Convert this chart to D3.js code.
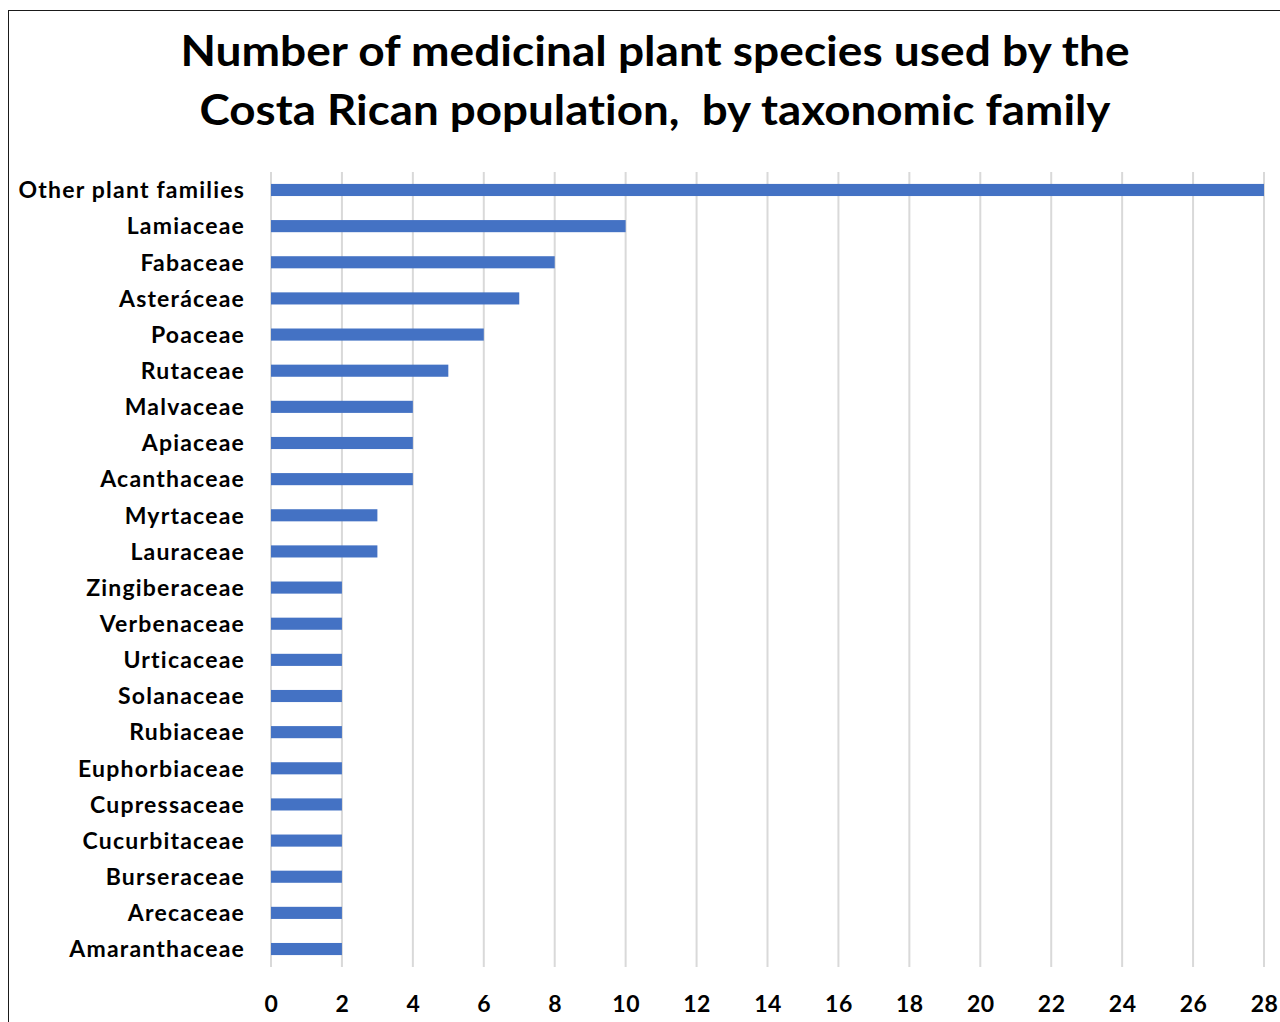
<!DOCTYPE html>
<html>
<head>
<meta charset="utf-8">
<script src="https://cdn.jsdelivr.net/npm/d3@7"></script>
<style>
  html, body { margin: 0; padding: 0; background: #fff; }
  svg { display: block; }
  text { font-family: Lato, "Open Sans", sans-serif; font-weight: bold; fill: #000; font-variant-ligatures: none; }
</style>
</head>
<body>
<svg id="chart" width="1280" height="1022"></svg>
<script>
// Plant families, top to bottom, and species counts for each
const families = [
  "Other plant families", "Lamiaceae", "Fabaceae", "Asteráceae", "Poaceae",
  "Rutaceae", "Malvaceae", "Apiaceae", "Acanthaceae", "Myrtaceae", "Lauraceae",
  "Zingiberaceae", "Verbenaceae", "Urticaceae", "Solanaceae", "Rubiaceae",
  "Euphorbiaceae", "Cupressaceae", "Cucurbitaceae", "Burseraceae", "Arecaceae",
  "Amaranthaceae"
];
const speciesCounts = [28, 10, 8, 7, 6, 5, 4, 4, 4, 3, 3, 2, 2, 2, 2, 2, 2, 2, 2, 2, 2, 2];
const xTicks = [0, 2, 4, 6, 8, 10, 12, 14, 16, 18, 20, 22, 24, 26, 28];
const titleLines = [
  "Number of medicinal plant species used by the",
  "Costa Rican population,  by taxonomic family"
];
const titleWidths = [949, 911];

const svg = d3.select("#chart");
const margin = { left: 271, right: 1264, top: 172, bottom: 967 };

// Outer chart frame (runs off the right and bottom edges)
svg.append("rect")
  .attr("x", 8.5).attr("y", 10.5)
  .attr("width", 1400).attr("height", 1100)
  .attr("fill", "none").attr("stroke", "#1a1a1a").attr("stroke-width", 1);

const x = d3.scaleLinear().domain([0, 28]).range([margin.left, margin.right]);
const y = d3.scaleBand().domain(families).range([margin.top, margin.bottom]).paddingInner(0.665).paddingOuter(0.33);

// Vertical gridlines
svg.append("g").selectAll("line").data(xTicks).join("line")
  .attr("x1", d => x(d)).attr("x2", d => x(d))
  .attr("y1", margin.top).attr("y2", margin.bottom)
  .attr("stroke", "#d9d9d9").attr("stroke-width", 2);

// Bars
svg.append("g").selectAll("rect").data(families).join("rect")
  .attr("x", x(0))
  .attr("y", d => y(d))
  .attr("width", (d, i) => x(speciesCounts[i]) - x(0))
  .attr("height", y.bandwidth())
  .attr("fill", "#4472c4");

// Category labels
const yAxis = d3.axisLeft(y).tickSize(0).tickPadding(0);
const gy = svg.append("g").attr("transform", `translate(${margin.left - 26},0)`).call(yAxis);
gy.select(".domain").remove();
gy.selectAll("text")
  .attr("font-size", 23).attr("fill", "#000")
  .style("font-family", "Lato, 'Open Sans', sans-serif").style("font-weight", "bold")
  .style("letter-spacing", "1.2px")
  .attr("dy", "0.36em");

// X tick labels
const xAxis = d3.axisBottom(x).tickValues(xTicks).tickSize(0).tickPadding(0);
const gx = svg.append("g").attr("transform", `translate(0,1012)`).call(xAxis);
gx.select(".domain").remove();
gx.selectAll("text")
  .attr("font-size", 23).attr("fill", "#000").attr("dy", 0)
  .style("font-family", "Lato, 'Open Sans', sans-serif").style("font-weight", "bold")
  .style("letter-spacing", "0.5px");

// Title
svg.append("g").selectAll("text").data(titleLines).join("text")
  .attr("x", 655)
  .attr("y", (d, i) => 66 + i * 59)
  .attr("text-anchor", "middle")
  .attr("font-size", 42)
  .attr("textLength", (d, i) => titleWidths[i])
  .attr("lengthAdjust", "spacingAndGlyphs")
  .style("white-space", "pre")
  .text(d => d);
</script>
</body>
</html>
